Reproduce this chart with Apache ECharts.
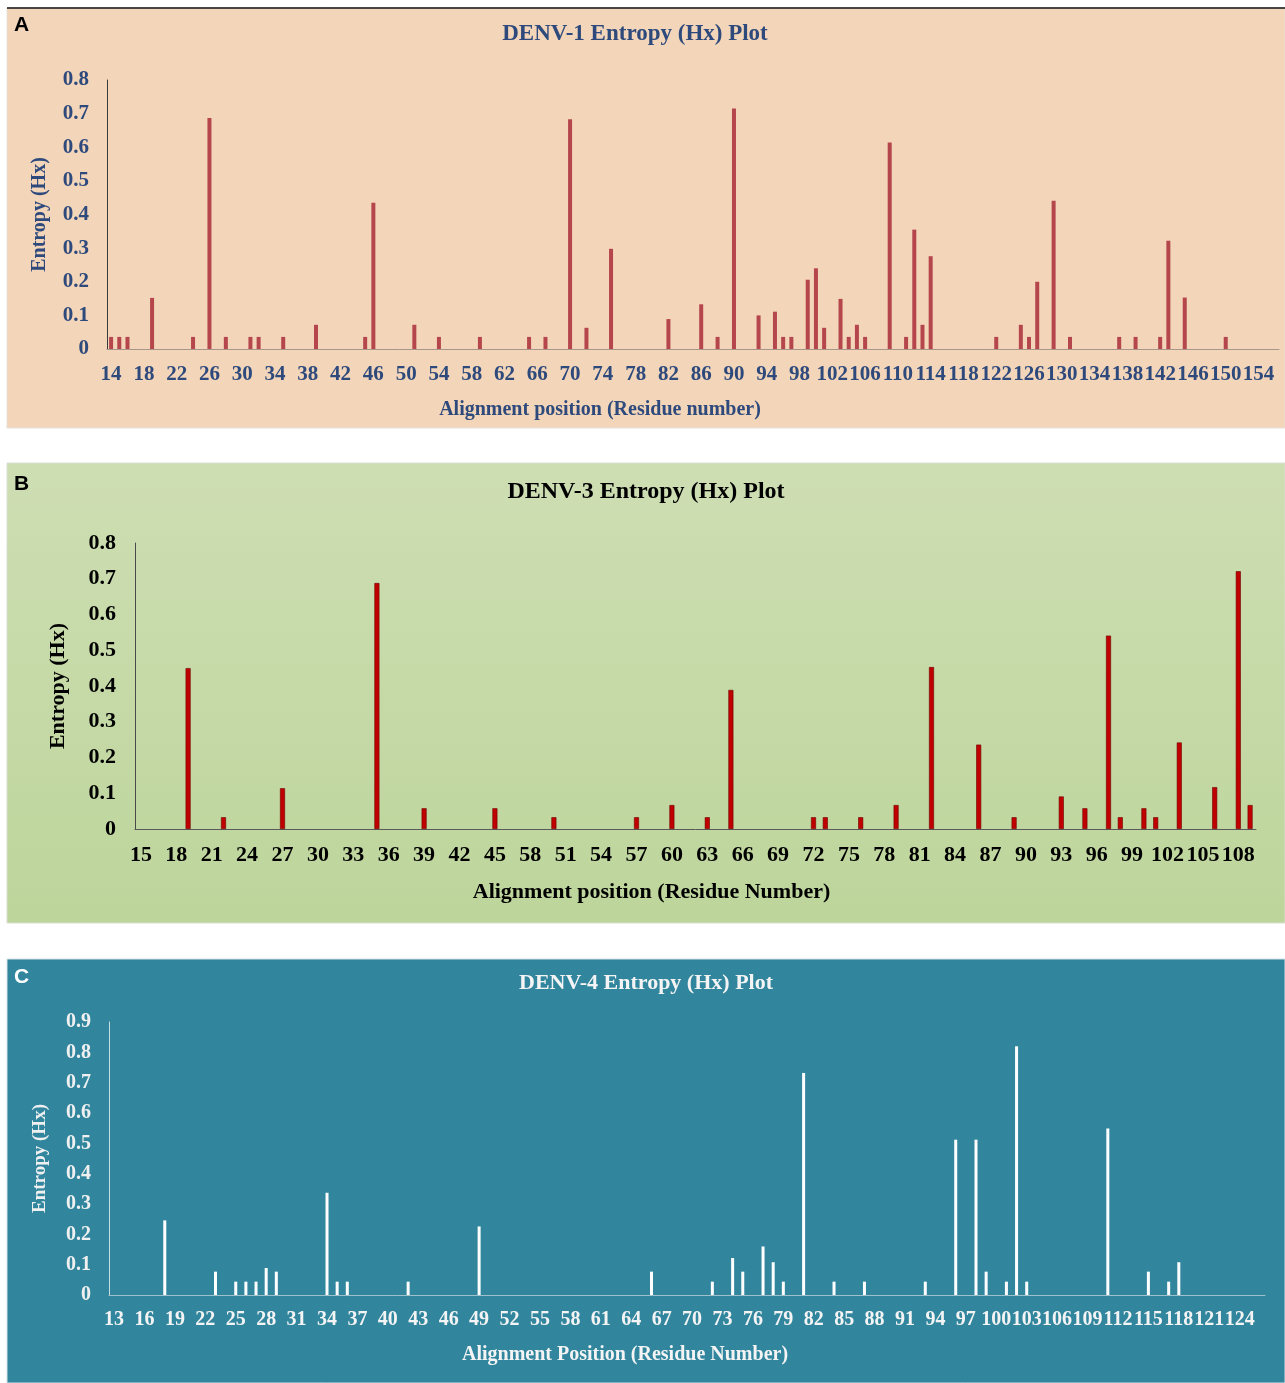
<!DOCTYPE html>
<html>
<head>
<meta charset="utf-8">
<script src="https://cdn.jsdelivr.net/npm/echarts@6/dist/echarts.min.js"></script>
<style>
  html, body { margin: 0; padding: 0; background: #ffffff; }
  #chart { width: 1285px; height: 1383px; }
</style>
</head>
<body>
<div id="chart"></div>
<script>
// ---------------- DATA ----------------
// Panel A: DENV-1, residues 14..156
const A_start = 14, A_end = 156;
const A_pos = [14,15,16,19,24,26,28,31,32,35,39,45,46,51,54,59,65,67,70,72,75,82,86,88,90,93,95,96,97,99,100,101,103,104,105,106,109,111,112,113,114,122,125,126,127,129,131,137,139,142,143,145,150];
const A_val = [0.036,0.036,0.036,0.152,0.036,0.687,0.036,0.036,0.036,0.036,0.072,0.036,0.435,0.072,0.036,0.036,0.036,0.036,0.683,0.063,0.298,0.089,0.133,0.036,0.715,0.1,0.111,0.036,0.036,0.206,0.24,0.063,0.149,0.036,0.072,0.036,0.614,0.036,0.355,0.072,0.276,0.036,0.072,0.036,0.2,0.441,0.036,0.036,0.036,0.036,0.322,0.153,0.036];
const A_ticks = ['14','18','22','26','30','34','38','42','46','50','54','58','62','66','70','74','78','82','86','90','94','98','102','106','110','114','118','122','126','130','134','138','142','146','150','154'];

// Panel B: DENV-3, residues 15..109
const B_start = 15, B_end = 109;
const B_pos = [19,22,27,35,39,45,50,57,60,63,65,72,73,76,79,82,86,89,93,95,97,98,100,101,103,106,108,109];
const B_val = [0.45,0.033,0.114,0.688,0.058,0.058,0.033,0.033,0.067,0.033,0.389,0.033,0.033,0.033,0.067,0.453,0.236,0.033,0.091,0.058,0.541,0.033,0.058,0.033,0.242,0.117,0.721,0.067];
const B_ticks = ['15','18','21','24','27','30','33','36','39','42','45','58','51','54','57','60','63','66','69','72','75','78','81','84','87','90','93','96','99','102','105','108'];

// Panel C: DENV-4, residues 13..126
const C_start = 13, C_end = 126;
const C_pos = [18,23,25,26,27,28,29,34,35,36,42,49,66,72,74,75,77,78,79,81,84,87,93,96,98,99,101,102,103,111,115,117,118];
const C_val = [0.246,0.077,0.044,0.044,0.044,0.089,0.077,0.337,0.044,0.044,0.044,0.226,0.077,0.044,0.122,0.077,0.16,0.108,0.044,0.732,0.044,0.044,0.044,0.512,0.512,0.077,0.044,0.82,0.044,0.549,0.077,0.044,0.108];
const C_ticks = ['13','16','19','22','25','28','31','34','37','40','43','46','49','52','55','58','61','64','67','70','73','76','79','82','85','88','91','94','97','100','103','106','109','112','115','118','121','124'];

// ---------------- HELPERS ----------------
function cats(start, end) {
  const out = [];
  for (let c = start; c <= end; c++) out.push(String(c));
  return out;
}
function seriesData(categories, pos, val) {
  const m = {};
  pos.forEach((p, i) => { m[String(p)] = val[i]; });
  return categories.map(c => (c in m ? m[c] : null));
}
function tickMap(categories, ticks, step) {
  const m = {};
  ticks.forEach((t, k) => { m[categories[k * step]] = t; });
  return m;
}

const A_cats = cats(A_start, A_end);
const B_cats = cats(B_start, B_end);
const C_cats = cats(C_start, C_end);
const A_map = tickMap(A_cats, A_ticks, 4);
const B_map = tickMap(B_cats, B_ticks, 3);
const C_map = tickMap(C_cats, C_ticks, 3);

const SERIF = '"Liberation Serif", "Times New Roman", serif';
const SANS = '"Liberation Sans", Arial, sans-serif';
const navy = '#2E4A7C';

const chart = echarts.init(document.getElementById('chart'), null, { renderer: 'canvas' });

function titleText(text, cx, top, size, color) {
  return { text: text, left: cx, top: top, textAlign: 'center', padding: 0,
    textStyle: { fontFamily: SERIF, fontWeight: 'bold', fontSize: size, color: color } };
}
function letter(text, top, color) {
  return { text: text, left: 14, top: top, padding: 0,
    textStyle: { fontFamily: SANS, fontWeight: 'bold', fontSize: 21, color: color } };
}

function xAxisCfg(gridIndex, categories, map, step, opts) {
  return {
    type: 'category', gridIndex: gridIndex, data: categories,
    boundaryGap: true,
    axisTick: { show: false },
    axisLine: { lineStyle: { color: opts.lineColor, width: 1 } },
    axisLabel: {
      interval: step - 1, margin: opts.margin,
      fontFamily: SERIF, fontWeight: 'bold', fontSize: opts.tickSize, color: opts.color,
      formatter: v => (map[v] !== undefined ? map[v] : '')
    },
    name: opts.name, nameLocation: 'middle', nameGap: opts.nameGap,
    nameTextStyle: { fontFamily: SERIF, fontWeight: 'bold', fontSize: opts.nameSize, color: opts.color,
      padding: [0, opts.shift * 2, 0, 0] },
    splitLine: { show: false }
  };
}
function yAxisCfg(gridIndex, max, opts) {
  return {
    type: 'value', gridIndex: gridIndex, min: 0, max: max, interval: 0.1,
    axisLine: { show: true, lineStyle: { color: opts.lineColor, width: 1 } },
    axisTick: { show: false },
    splitLine: { show: false },
    axisLabel: { margin: opts.margin, fontFamily: SERIF, fontWeight: 'bold', fontSize: opts.tickSize, color: opts.color,
      formatter: v => (v === 0 ? '0' : v.toFixed(1)) },
    name: 'Entropy (Hx)', nameLocation: 'middle', nameGap: opts.nameGap,
    nameTextStyle: { fontFamily: SERIF, fontWeight: 'bold', fontSize: opts.nameSize, color: opts.color }
  };
}

const option = {
  backgroundColor: '#ffffff',
  animation: false,
  graphic: [
    { type: 'rect', z: -10, shape: { x: 7, y: 8, width: 1278, height: 420 },
      style: { fill: '#F3D5B9', stroke: '#E6E0DA', lineWidth: 1 } },
    { type: 'line', z: -9, shape: { x1: 7, y1: 8, x2: 1285, y2: 8 }, style: { stroke: '#111111', lineWidth: 1.5 } },
    { type: 'rect', z: -10, shape: { x: 7, y: 463, width: 1278, height: 460 },
      style: { fill: new echarts.graphic.LinearGradient(0, 0, 0, 1, [
        { offset: 0, color: '#CEDEB3' }, { offset: 1, color: '#BDD59B' }]),
        stroke: '#D9DDD2', lineWidth: 1 } },
    { type: 'rect', z: -10, shape: { x: 7, y: 959, width: 1278, height: 424 },
      style: { fill: '#31869E', stroke: '#D6E0E3', lineWidth: 1 } }
  ],
  title: [
    titleText('DENV-1 Entropy (Hx) Plot', 635, 23, 23, navy),
    titleText('DENV-3 Entropy (Hx) Plot', 646, 480, 24, '#000000'),
    titleText('DENV-4 Entropy (Hx) Plot', 646, 972, 22, '#F4F4F4'),
    letter('A', 15, '#000000'),
    letter('B', 474, '#000000'),
    letter('C', 967, '#FFFFFF')
  ],
  grid: [
    { left: 107, top: 80, width: 1172, height: 269, containLabel: false },
    { left: 135, top: 543, width: 1121, height: 286, containLabel: false },
    { left: 109, top: 1022, width: 1156, height: 273, containLabel: false }
  ],
  xAxis: [
    xAxisCfg(0, A_cats, A_map, 4, { lineColor: '#A8968A', margin: 15, tickSize: 21, color: navy,
      name: 'Alignment position (Residue number)', nameGap: 51, nameSize: 20, shift: 93 }),
    xAxisCfg(1, B_cats, B_map, 3, { lineColor: '#5A5A5A', margin: 15, tickSize: 22, color: '#000000',
      name: 'Alignment position (Residue Number)', nameGap: 52, nameSize: 22, shift: 44 }),
    xAxisCfg(2, C_cats, C_map, 3, { lineColor: '#9FC1CB', margin: 15, tickSize: 20, color: '#F4F4F4',
      name: 'Alignment Position (Residue Number)', nameGap: 50, nameSize: 20, shift: 62 })
  ],
  yAxis: [
    yAxisCfg(0, 0.8, { lineColor: '#3A3A3A', margin: 18, tickSize: 21, color: navy, nameGap: 57, nameSize: 20 }),
    yAxisCfg(1, 0.8, { lineColor: '#4A4A4A', margin: 19, tickSize: 22, color: '#000000', nameGap: 66, nameSize: 22 }),
    yAxisCfg(2, 0.9, { lineColor: '#C9DCE1', margin: 18, tickSize: 20, color: '#F0F0F0', nameGap: 59, nameSize: 19 })
  ],
  series: [
    { name: 'DENV-1', type: 'bar', xAxisIndex: 0, yAxisIndex: 0, barWidth: 4,
      data: seriesData(A_cats, A_pos, A_val),
      itemStyle: { color: '#B4464C' } },
    { name: 'DENV-3', type: 'bar', xAxisIndex: 1, yAxisIndex: 1, barWidth: 5,
      data: seriesData(B_cats, B_pos, B_val),
      itemStyle: { color: '#C00000', borderColor: '#6E0000', borderWidth: 0.6 } },
    { name: 'DENV-4', type: 'bar', xAxisIndex: 2, yAxisIndex: 2, barWidth: 3,
      data: seriesData(C_cats, C_pos, C_val),
      itemStyle: { color: '#FFFFFF' } }
  ]
};
chart.setOption(option);
</script>
</body>
</html>
